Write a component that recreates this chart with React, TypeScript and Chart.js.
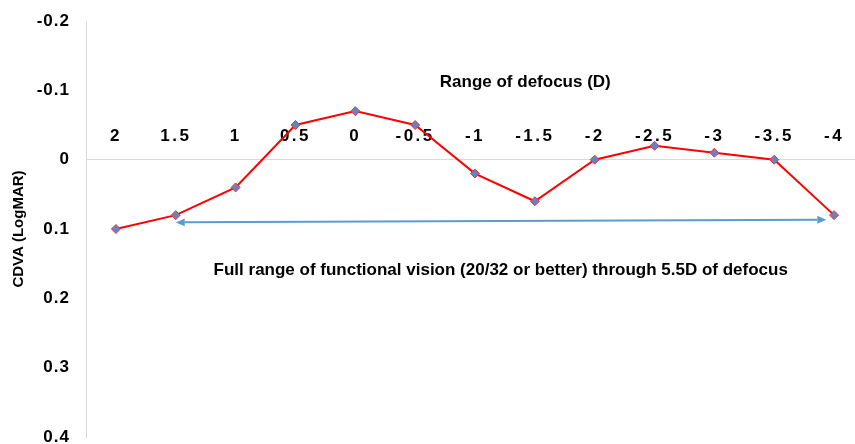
import React, { useEffect, useRef } from "react";
import { Chart, registerables } from "chart.js";

Chart.register(...registerables);

const defocusLabels: string[] = ["2", "1.5", "1", "0.5", "0", "-0.5", "-1", "-1.5", "-2", "-2.5", "-3", "-3.5", "-4"];
const cdvaValues: number[] = [0.1, 0.08, 0.04, -0.05, -0.07, -0.05, 0.02, 0.06, 0.0, -0.02, -0.01, 0.0, 0.08];
const yTickMin = -0.2;
const yTickMax = 0.4;
const yTickStep = 0.1;
const xAxisTitle = "Range of defocus (D)";
const yAxisTitle = "CDVA (LogMAR)";
const arrowText = "Full range of functional vision (20/32 or better) through 5.5D of defocus";
// arrow endpoints in data units: [category index, LogMAR]
const arrowStart: [number, number] = [1, 0.0905];
const arrowEnd: [number, number] = [11.87, 0.0865];
// text anchors in data units
const xTitleAnchor: [number, number] = [6.84, -0.111];
const arrowTextAnchor: [number, number] = [6.43, 0.159];

const FONT = 'Arial, "Liberation Sans", sans-serif';

const wrapLabels = (scale: any, spacing: string) => {
  if (!scale || scale.__wrapped) return;
  const orig = Object.getPrototypeOf(scale).drawLabels;
  scale.drawLabels = function (area: any) {
    const ctx = this.ctx as any;
    ctx.save();
    if ("letterSpacing" in ctx) ctx.letterSpacing = spacing;
    orig.call(this, area);
    ctx.restore();
  };
  scale.__wrapped = true;
};

const spacingPlugin = {
  id: "spacing",
  afterLayout(chart: any) {
    wrapLabels(chart.scales.x, "2.5px");
    wrapLabels(chart.scales.y, "1px");
  },
};

const annotationPlugin = {
  id: "annotations",
  afterDatasetsDraw(chart: any) {
    const { ctx, scales } = chart;
    const x = scales.x;
    const y = scales.y;
    ctx.save();
    // double-headed arrow
    const x1 = x.getPixelForValue(arrowStart[0]);
    const y1 = y.getPixelForValue(arrowStart[1]);
    const x2 = x.getPixelForValue(arrowEnd[0]);
    const y2 = y.getPixelForValue(arrowEnd[1]);
    const color = "#5b9bd5";
    ctx.strokeStyle = color;
    ctx.fillStyle = color;
    ctx.lineWidth = 2;
    const ang = Math.atan2(y2 - y1, x2 - x1);
    const hl = 9;
    const hw = 4;
    ctx.beginPath();
    ctx.moveTo(x1 + hl * Math.cos(ang), y1 + hl * Math.sin(ang));
    ctx.lineTo(x2 - hl * Math.cos(ang), y2 - hl * Math.sin(ang));
    ctx.stroke();
    const head = (px: number, py: number, a: number) => {
      ctx.beginPath();
      ctx.moveTo(px, py);
      ctx.lineTo(px - hl * Math.cos(a) + hw * Math.sin(a), py - hl * Math.sin(a) - hw * Math.cos(a));
      ctx.lineTo(px - hl * Math.cos(a) - hw * Math.sin(a), py - hl * Math.sin(a) + hw * Math.cos(a));
      ctx.closePath();
      ctx.fill();
    };
    head(x2, y2, ang);
    head(x1, y1, ang + Math.PI);
    // texts
    ctx.fillStyle = "#000";
    ctx.textAlign = "center";
    ctx.textBaseline = "middle";
    ctx.font = `bold 17px ${FONT}`;
    ctx.fillText(xAxisTitle, x.getPixelForValue(xTitleAnchor[0]), y.getPixelForValue(xTitleAnchor[1]));
    ctx.fillText(arrowText, x.getPixelForValue(arrowTextAnchor[0]), y.getPixelForValue(arrowTextAnchor[1]));
    ctx.restore();
  },
};

export default function App() {
  const canvasRef = useRef<HTMLCanvasElement | null>(null);

  useEffect(() => {
    document.body.style.margin = "0";
    document.body.style.overflow = "hidden";
    const canvas = canvasRef.current;
    if (!canvas) return;
    const chart = new Chart(canvas, {
      type: "line",
      data: {
        labels: defocusLabels,
        datasets: [
          {
            data: cdvaValues,
            borderColor: "#ff0000",
            borderWidth: 2,
            backgroundColor: "#6383c4",
            pointStyle: "rectRot",
            pointRadius: 4.5,
            pointBackgroundColor: "#6383c4",
            pointBorderColor: "#e8333a",
            pointBorderWidth: 1,
            tension: 0,
            fill: false,
          },
        ],
      },
      plugins: [spacingPlugin, annotationPlugin],
      options: {
        animation: false,
        responsive: true,
        maintainAspectRatio: false,
        layout: { padding: { left: 0, right: 8, top: 21, bottom: 11 } },
        plugins: { legend: { display: false }, tooltip: { enabled: false } },
        scales: {
          x: {
            type: "category",
            position: { y: 0 } as any,
            offset: true,
            grid: { display: false, drawTicks: false },
            border: { display: false },
            ticks: {
              color: "#000",
              font: { family: FONT, size: 17, weight: "bold" },
              padding: -34,
              maxRotation: 0,
              autoSkip: false,
            },
          },
          y: {
            reverse: true,
            min: yTickMin,
            max: yTickMax,
            grid: {
              drawTicks: false,
              color: (c: any) => (c.tick && Math.abs(c.tick.value) < 1e-9 ? "#d9d9d9" : "rgba(0,0,0,0)"),
              lineWidth: 1,
            },
            border: { display: true, color: "#d9d9d9", width: 1 },
            ticks: {
              stepSize: yTickStep,
              color: "#000",
              font: { family: FONT, size: 17, weight: "bold" },
              padding: 16,
              callback: (v: any) => {
                const r = Math.round(Number(v) * 10) / 10;
                return r === 0 ? "0" : r.toFixed(1);
              },
            },
            title: {
              display: true,
              text: yAxisTitle,
              color: "#000",
              font: { family: FONT, size: 15, weight: "bold" },
              padding: { top: 10, bottom: 0 },
            },
            afterFit: (s: any) => {
              s.width = 86;
              s.paddingTop = 0;
              s.paddingBottom = 0;
            },
          },
        },
      },
    });
    return () => chart.destroy();
  }, []);

  return (
    <div style={{ position: "relative", width: "872px", height: "448px" }}>
      <canvas ref={canvasRef} />
    </div>
  );
}
